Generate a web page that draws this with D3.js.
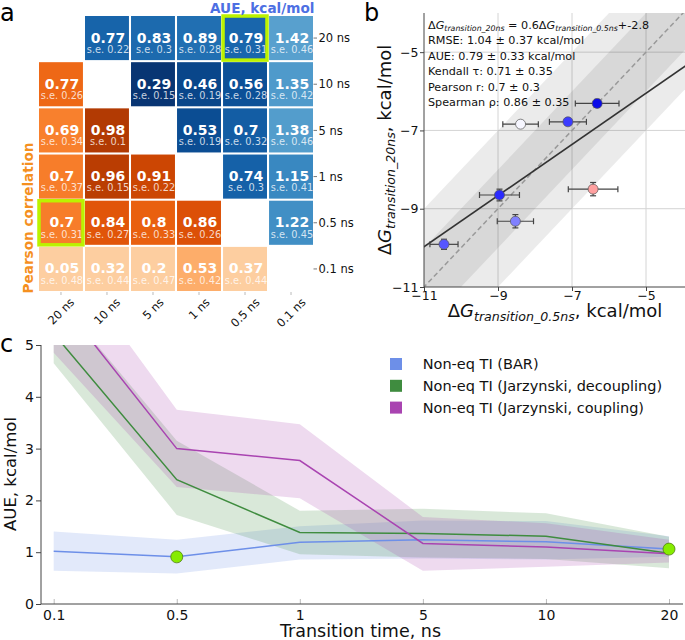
<!DOCTYPE html>
<html><head><meta charset="utf-8">
<script src="https://cdn.jsdelivr.net/npm/d3@7"></script>
<style>body{margin:0;background:#fff}svg{font-family:"DejaVu Sans",sans-serif}</style>
</head><body>
<svg id="fig" width="685" height="640"></svg>
<script>
// ---------------- DATA ----------------
// Panel a
const hmLabels = ["20 ns","10 ns","5 ns","1 ns","0.5 ns","0.1 ns"];
// upper triangle: AUE (kcal/mol); lower triangle: Pearson correlation
const hmValues = [
  [null, 0.77, 0.83, 0.89, 0.79, 1.42],
  [0.77, null, 0.29, 0.46, 0.56, 1.35],
  [0.69, 0.98, null, 0.53, 0.7, 1.38],
  [0.7, 0.96, 0.91, null, 0.74, 1.15],
  [0.7, 0.84, 0.8, 0.86, null, 1.22],
  [0.05, 0.32, 0.2, 0.53, 0.37, null]
];
const hmSE = [
  [null, 0.22, 0.3, 0.28, 0.31, 0.46],
  [0.26, null, 0.15, 0.19, 0.28, 0.42],
  [0.34, 0.1, null, 0.19, 0.32, 0.46],
  [0.37, 0.15, 0.22, null, 0.3, 0.41],
  [0.31, 0.27, 0.33, 0.26, null, 0.45],
  [0.48, 0.44, 0.47, 0.42, 0.44, null]
];
const hmHighlight = [[0,4],[4,0]];

// Panel b
const bX    = [-10.46, -8.96, -8.53, -6.43, -6.32, -7.11, -8.39];
const bY    = [-9.91, -8.65, -9.32, -8.50, -6.31, -6.78, -6.84];
const bXerr = [0.38, 0.54, 0.49, 0.67, 0.59, 0.50, 0.48];
const bYerr = [0.13, 0.15, 0.17, 0.17, 0.10, 0.07, 0.05];
const bColors = ["#5656ff","#2a2aff","#8080ff","#ffa0a0","#0a0ae8","#3c3cff","#f6f6ff"];
const bTicks = [-11, -9, -7, -5];
const bBands = [2, 1];
const fitSlope = 0.654, fitIntercept = -2.78;
const bStats = [
  "RMSE: 1.04 \u00b1 0.37 kcal/mol",
  "AUE: 0.79 \u00b1 0.33 kcal/mol",
  "Kendall \u03c4: 0.71 \u00b1 0.35",
  "Pearson r: 0.7 \u00b1 0.3",
  "Spearman \u03c1: 0.86 \u00b1 0.35"
];

// Panel c
const times = ["0.1","0.5","1","5","10","20"];
const barMean = [1.02, 0.91, 1.19, 1.24, 1.20, 1.06];
const barLow  = [0.64, 0.59, 0.86, 0.88, 0.86, 0.91];
const barHigh = [1.40, 1.24, 1.50, 1.61, 1.60, 1.31];
const decMean = [5.22, 2.40, 1.38, 1.36, 1.31, 0.98];
const decLow  = [4.65, 1.72, 0.96, 0.90, 0.87, 0.69];
const decHigh = [6.00, 3.15, 1.80, 1.84, 1.75, 1.30];
const cplMean = [6.00, 3.00, 2.77, 1.17, 1.10, 0.97];
const cplLow  = [4.85, 2.26, 2.04, 0.64, 0.72, 0.80];
const cplHigh = [7.00, 3.75, 3.47, 1.68, 1.56, 1.24];
const seriesNames = ["Non-eq TI (BAR)","Non-eq TI (Jarzynski, decoupling)","Non-eq TI (Jarzynski, coupling)"];
const seriesColors = ["#6d8fe8","#3f8c3f","#a944b1"];
const markTimes = ["0.5","20"];
const markValues = [0.91, 1.06];

// ---------------- DRAW ----------------
const svg = d3.select("#fig");
const LIME = "#bcf200";

function mathText(sel, parts, size){
  let cur = 0;
  parts.forEach(p=>{
    const sh = p.sub ? size*0.24 : 0;
    const ts = sel.append("tspan").text(p.t).attr("dy", sh-cur);
    cur = sh;
    ts.style("font-size", (p.sub ? size*0.7 : size)+"px");
    if(p.it || p.sub) ts.style("font-style","italic");
  });
}

// ===== Panel a =====
const ga = svg.append("g");
ga.append("text").attr("x",0).attr("y",21).attr("font-size",24).text("a");
const hx = d3.scaleBand().domain(d3.range(6)).range([39,313]).paddingInner(0.045);
const hy = d3.scaleBand().domain(d3.range(6)).range([16,291]).paddingInner(0.045);
const blueT = d3.scaleLinear().domain([0.237,2.925]).range([1,0]).clamp(true);
const orangeT = d3.scaleLinear().domain([0.405,1.126]).range([0.25,1]).clamp(true);

const cells = [];
hmValues.forEach((row,i)=>row.forEach((v,j)=>{ if(v!==null) cells.push({i,j,v,se:hmSE[i][j]}); }));
const cg = ga.selectAll("g.cell").data(cells).join("g").attr("class","cell")
  .attr("transform",d=>`translate(${hx(d.j)},${hy(d.i)})`);
cg.append("rect").attr("width",hx.bandwidth()).attr("height",hy.bandwidth())
  .attr("fill",d=> d.j>d.i ? d3.interpolateBlues(blueT(d.v)) : d3.interpolateOranges(orangeT(d.v)));
cg.append("text").attr("x",hx.bandwidth()/2+1).attr("y",26.5).attr("text-anchor","middle")
  .attr("font-size",14).attr("font-weight","bold").attr("fill","#fff").text(d=>String(d.v));
cg.append("text").attr("x",hx.bandwidth()/2+1).attr("y",36.8).attr("text-anchor","middle")
  .attr("font-size",9.8).attr("fill","#fff").attr("fill-opacity",0.78).text(d=>"s.e. "+d.se);
ga.selectAll("rect.hl").data(hmHighlight).join("rect").attr("class","hl")
  .attr("x",d=>hx(d[1])).attr("y",d=>hy(d[0])).attr("width",hx.bandwidth()).attr("height",hy.bandwidth())
  .attr("fill","none").attr("stroke",LIME).attr("stroke-width",3.5);

// right labels
hmLabels.forEach((lab,i)=>{
  const cy = hy(i)+hy.bandwidth()/2;
  ga.append("line").attr("x1",313.5).attr("x2",317).attr("y1",cy).attr("y2",cy).attr("stroke","#555").attr("stroke-width",0.8);
  ga.append("text").attr("x",318.5).attr("y",cy).attr("dy","0.36em").attr("font-size",11.5).attr("fill","#111").text(lab);
});
// bottom labels
hmLabels.forEach((lab,j)=>{
  const cx = hx(j)+hx.bandwidth()/2;
  ga.append("line").attr("x1",cx).attr("x2",cx).attr("y1",292).attr("y2",295).attr("stroke","#aaa").attr("stroke-width",0.8);
  const t = ga.append("text").attr("font-size",11.5).attr("fill","#111").attr("text-anchor","end").text(lab);
  const L = t.node().getComputedTextLength();
  const px = cx + 0.3535*(L+8.4), py = 303;
  t.attr("transform",`translate(${px},${py}) rotate(-45)`);
});
ga.append("text").attr("x",210).attr("y",13).attr("font-size",13.6).attr("font-weight","bold").attr("fill","#4d6fe3").text("AUE, kcal/mol");
ga.append("text").attr("transform","translate(32.5,218) rotate(-90)").attr("text-anchor","middle")
  .attr("font-size",13.6).attr("font-weight","bold").attr("fill","#f5901f").text("Pearson correlation");

// ===== Panel b =====
const gb = svg.append("g");
gb.append("text").attr("x",364).attr("y",21).attr("font-size",24).text("b");
const bx = d3.scaleLinear().domain([-11,-4]).range([424,683]);
const by = d3.scaleLinear().domain([-11,-4]).range([287,13]);
gb.append("clipPath").attr("id","clipb").append("rect").attr("x",424).attr("y",13).attr("width",261).attr("height",274);
const pb = gb.append("g").attr("clip-path","url(#clipb)");
// grid
bTicks.slice(1).forEach(v=>{
  pb.append("line").attr("x1",bx(v)).attr("x2",bx(v)).attr("y1",13).attr("y2",287).attr("stroke","#d4d4d4").attr("stroke-width",1);
  pb.append("line").attr("y1",by(v)).attr("y2",by(v)).attr("x1",424).attr("x2",685).attr("stroke","#d4d4d4").attr("stroke-width",1);
});
// bands
const diagX = [-14, -1];
bBands.forEach(w=>{
  pb.append("path").datum(diagX)
    .attr("d", d3.area().x(d=>bx(d)).y0(d=>by(d-w)).y1(d=>by(d+w)))
    .attr("fill","#000").attr("fill-opacity",0.08);
});
pb.append("path").datum(diagX).attr("d", d3.line().x(d=>bx(d)).y(d=>by(d)))
  .attr("stroke","#999").attr("stroke-width",1.5).attr("stroke-dasharray","5,3").attr("fill","none");
pb.append("path").datum(diagX).attr("d", d3.line().x(d=>bx(d)).y(d=>by(fitSlope*d+fitIntercept)))
  .attr("stroke","#333").attr("stroke-width",1.6).attr("fill","none");
// error bars + points
const pts = bX.map((x,k)=>({x, y:bY[k], xe:bXerr[k], ye:bYerr[k], c:bColors[k]}));
pts.forEach(p=>{
  const e = gb.append("g").attr("stroke","#444").attr("stroke-width",1.2);
  e.append("line").attr("x1",bx(p.x-p.xe)).attr("x2",bx(p.x+p.xe)).attr("y1",by(p.y)).attr("y2",by(p.y));
  e.append("line").attr("x1",bx(p.x-p.xe)).attr("x2",bx(p.x-p.xe)).attr("y1",by(p.y)-3).attr("y2",by(p.y)+3);
  e.append("line").attr("x1",bx(p.x+p.xe)).attr("x2",bx(p.x+p.xe)).attr("y1",by(p.y)-3).attr("y2",by(p.y)+3);
  e.append("line").attr("x1",bx(p.x)).attr("x2",bx(p.x)).attr("y1",by(p.y-p.ye)).attr("y2",by(p.y+p.ye));
  e.append("line").attr("x1",bx(p.x)-3).attr("x2",bx(p.x)+3).attr("y1",by(p.y-p.ye)).attr("y2",by(p.y-p.ye));
  e.append("line").attr("x1",bx(p.x)-3).attr("x2",bx(p.x)+3).attr("y1",by(p.y+p.ye)).attr("y2",by(p.y+p.ye));
});
gb.selectAll("circle.pt").data(pts).join("circle").attr("class","pt")
  .attr("cx",d=>bx(d.x)).attr("cy",d=>by(d.y)).attr("r",5).attr("fill",d=>d.c).attr("stroke","#555").attr("stroke-width",0.7);
// axes
const bxAxis = gb.append("g").attr("transform","translate(0,287)")
  .call(d3.axisBottom(bx).tickValues(bTicks).tickFormat(d3.format("d")).tickSizeOuter(0).tickSize(4).tickPadding(0.5));
const byAxis = gb.append("g").attr("transform","translate(424,0)")
  .call(d3.axisLeft(by).tickValues(bTicks).tickFormat(d3.format("d")).tickSizeOuter(0).tickSize(4).tickPadding(1.5));
[bxAxis,byAxis].forEach(a=>{
  a.select(".domain").remove();
  a.selectAll("text").attr("font-size",12.5).attr("fill","#111").attr("font-family",'"DejaVu Sans",sans-serif');
  a.selectAll("line").attr("stroke","#444");
});
gb.append("line").attr("x1",424).attr("x2",424).attr("y1",13).attr("y2",287).attr("stroke","#444").attr("stroke-width",1);
gb.append("line").attr("x1",424).attr("x2",685).attr("y1",287).attr("y2",287).attr("stroke","#444").attr("stroke-width",1);
// stats text
const st1 = gb.append("text").attr("x",428).attr("y",28.5).style("font-size","11.2px").attr("fill","#111");
mathText(st1,[{t:"\u0394"},{t:"G",it:true},{t:"transition_20ns",sub:true},{t:" = 0.6\u0394"},{t:"G",it:true},{t:"transition_0.5ns",sub:true},{t:"+-2.8"}],11.2);
bStats.forEach((s,k)=>{
  gb.append("text").attr("x",428).attr("y",44+k*15.6).attr("font-size",11.2).attr("fill","#111").text(s);
});
// axis labels
const bxl = gb.append("text").attr("x",555).attr("y",316.5).attr("text-anchor","middle").style("font-size","18px").attr("fill","#111");
mathText(bxl,[{t:"\u0394"},{t:"G",it:true},{t:"transition_0.5ns",sub:true},{t:", kcal/mol"}],18);
const byl = gb.append("text").attr("transform","translate(391,150) rotate(-90)").attr("text-anchor","middle").style("font-size","18px").attr("fill","#111");
mathText(byl,[{t:"\u0394"},{t:"G",it:true},{t:"transition_20ns",sub:true},{t:", kcal/mol"}],18);

// ===== Panel c =====
const gc = svg.append("g");
gc.append("text").attr("x",0).attr("y",352).attr("font-size",24).text("c");
const cx = d3.scalePoint().domain(times).range([53.7,669]);
const cy = d3.scaleLinear().domain([0,5]).range([604,345]);
gc.append("clipPath").attr("id","clipc").append("rect").attr("x",41).attr("y",345).attr("width",644).attr("height",259);
const pc = gc.append("g").attr("clip-path","url(#clipc)");
const series = [
  {m:barMean,lo:barLow,hi:barHigh},
  {m:decMean,lo:decLow,hi:decHigh},
  {m:cplMean,lo:cplLow,hi:cplHigh}
];
series.forEach((s,k)=>{
  pc.append("path").datum(times.map((t,i)=>({t,lo:s.lo[i],hi:s.hi[i]})))
    .attr("d", d3.area().x(d=>cx(d.t)).y0(d=>cy(d.lo)).y1(d=>cy(d.hi)))
    .attr("fill",seriesColors[k]).attr("fill-opacity",0.2);
});
series.forEach((s,k)=>{
  pc.append("path").datum(times.map((t,i)=>({t,v:s.m[i]})))
    .attr("d", d3.line().x(d=>cx(d.t)).y(d=>cy(d.v)))
    .attr("stroke",seriesColors[k]).attr("stroke-width",1.5).attr("fill","none");
});
gc.selectAll("circle.mk").data(markTimes.map((t,i)=>({t,v:markValues[i]}))).join("circle").attr("class","mk")
  .attr("cx",d=>cx(d.t)).attr("cy",d=>cy(d.v)).attr("r",6).attr("fill","#86ec00").attr("stroke","#4f7f10").attr("stroke-width",0.8);
// axes
const cxAxis = gc.append("g").attr("transform","translate(0,604)")
  .call(d3.axisBottom(cx).tickSizeInner(-5).tickSizeOuter(0).tickPadding(6.4));
cxAxis.select(".domain").remove();
cxAxis.selectAll("line").attr("stroke","#bbb");
cxAxis.selectAll("text").attr("font-size",14).attr("fill","#111").attr("font-family",'"DejaVu Sans",sans-serif');
const cyAxis = gc.append("g").attr("transform","translate(41,0)")
  .call(d3.axisLeft(cy).ticks(5).tickSizeOuter(0).tickSize(5).tickPadding(2));
cyAxis.select(".domain").remove();
cyAxis.selectAll("line").attr("stroke","#444");
cyAxis.selectAll("text").attr("font-size",14).attr("fill","#111").attr("font-family",'"DejaVu Sans",sans-serif');
gc.append("line").attr("x1",41).attr("x2",41).attr("y1",345).attr("y2",604).attr("stroke","#444").attr("stroke-width",1);
gc.append("line").attr("x1",41).attr("x2",683).attr("y1",604).attr("y2",604).attr("stroke","#444").attr("stroke-width",1);
gc.append("text").attr("transform","translate(16,474) rotate(-90)").attr("text-anchor","middle").attr("font-size",16.5).attr("fill","#111").text("AUE, kcal/mol");
gc.append("text").attr("x",360.5).attr("y",637).attr("text-anchor","middle").attr("font-size",17.5).attr("fill","#111").text("Transition time, ns");
// legend
seriesNames.forEach((n,k)=>{
  const yy = 364 + k*21.8;
  gc.append("rect").attr("x",390).attr("y",yy-6).attr("width",12).attr("height",12).attr("fill",seriesColors[k]);
  gc.append("text").attr("x",422.7).attr("y",yy).attr("dy","0.36em").attr("font-size",14.5).attr("fill","#111").text(n);
});
</script>
</body></html>
